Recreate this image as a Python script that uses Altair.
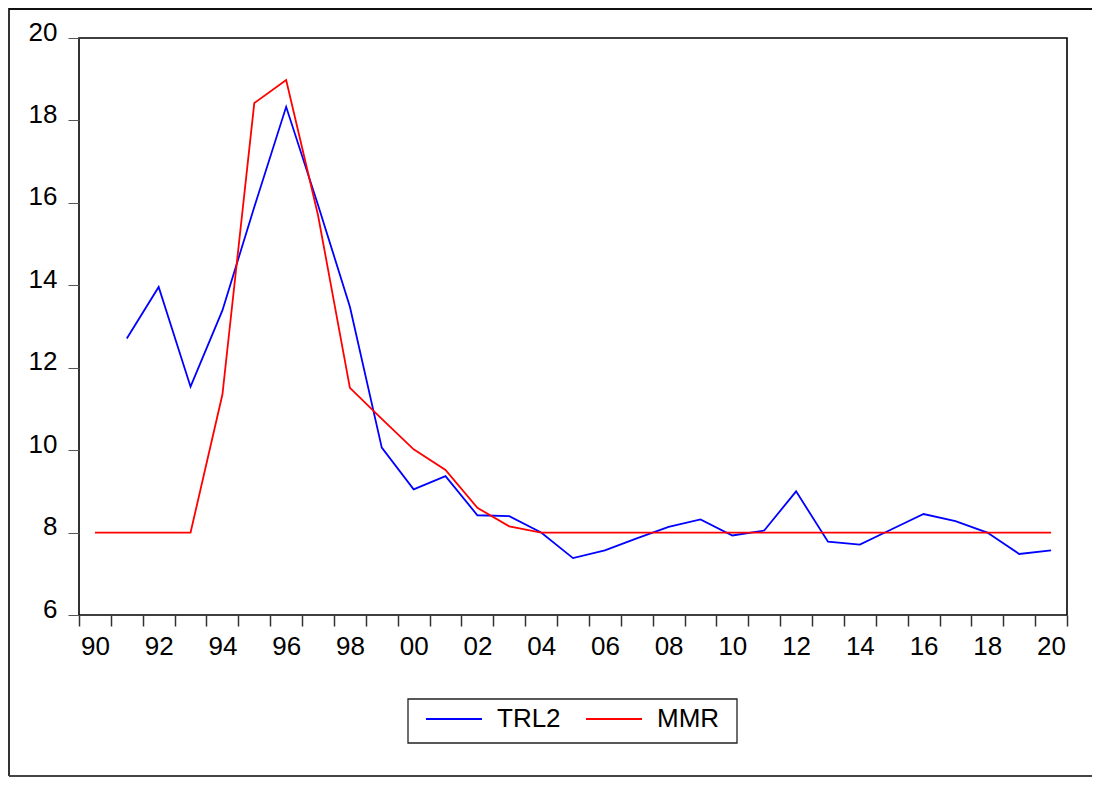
import altair as alt
import pandas as pd

years = list(range(1990, 2021))
trl2 = [None, 12.71, 13.96, 11.54, 13.39, 15.9, 18.33, 15.95, 13.48, 10.06,
        9.05, 9.37, 8.42, 8.40, 8.0, 7.38, 7.57, 7.86, 8.14, 8.32,
        7.93, 8.05, 9.0, 7.78, 7.71, 8.08, 8.45, 8.28, 8.0, 7.48, 7.57]
mmr = [8.0, 8.0, 8.0, 8.0, 11.35, 18.42, 18.98, 15.7, 11.51, 10.76,
       10.02, 9.52, 8.6, 8.15, 8.0, 8.0, 8.0, 8.0, 8.0, 8.0,
       8.0, 8.0, 8.0, 8.0, 8.0, 8.0, 8.0, 8.0, 8.0, 8.0, 8.0]
series_names = ["TRL2", "MMR"]
series_colors = ["#0000ff", "#ff0000"]
y_ticks = [6, 8, 10, 12, 14, 16, 18, 20]

rows = []
for name, vals in zip(series_names, [trl2, mmr]):
    for yr, v in zip(years, vals):
        if v is not None:
            rows.append({"year": yr, "value": v, "series": name})
df = pd.DataFrame(rows)

x_vals = [y - 0.5 for y in years] + [years[-1] + 0.5] + [y for y in years if y % 2 == 0]

FONT = "Liberation Sans"

lines = alt.Chart(df).mark_line(strokeWidth=1.8).encode(
    x=alt.X("year:Q",
            scale=alt.Scale(domain=[1989.5, 2020.5], nice=False, zero=False),
            axis=alt.Axis(values=x_vals, title=None, grid=False,
                          labelExpr="datum.value % 2 == 0 ? slice(toString(datum.value), 2) : ''",
                          tickOpacity={"condition": {"test": "datum.value % 1 == 0", "value": 0}, "value": 1},
                          tickSize=11, tickWidth=1.5, tickColor="#333333",
                          labelFont=FONT, labelFontSize=26, labelColor="#000000",
                          labelPadding=7, labelOverlap=False, labelFlush=False,
                          domain=False)),
    y=alt.Y("value:Q",
            scale=alt.Scale(domain=[6, 20], nice=False, zero=False),
            axis=alt.Axis(values=y_ticks, title=None, grid=False,
                          tickSize=11, tickWidth=1, tickColor="#555555",
                          labelFont=FONT, labelFontSize=26, labelColor="#000000",
                          labelPadding=11, labelOffset=-6, labelOverlap=False,
                          labelFlush=False, domain=False)),
    color=alt.Color("series:N",
                    scale=alt.Scale(domain=series_names, range=series_colors),
                    legend=alt.Legend(orient="none", legendX=346, legendY=652,
                                      direction="horizontal", title=None,
                                      symbolType="stroke", symbolSize=3136,
                                      symbolStrokeWidth=2, labelFont=FONT,
                                      labelFontSize=26, labelColor="#000000",
                                      labelOffset=14, columnPadding=21,
                                      padding=0)),
)

one = pd.DataFrame({"a": [0]})
legend_box = alt.Chart(one).mark_rect(fill=None, stroke="#222222", strokeWidth=1.3).encode(
    x=alt.value(329), x2=alt.value(658), y=alt.value(661), y2=alt.value(705))

frame_left = alt.Chart(one).mark_rule(color="#333333", strokeWidth=2).encode(
    x=alt.value(-70), y=alt.value(-30), y2=alt.value(738))
frame_top = alt.Chart(one).mark_rule(color="#111111", strokeWidth=2).encode(
    x=alt.value(-70), x2=alt.value(1025), y=alt.value(-29))
frame_bottom = alt.Chart(one).mark_rule(color="#444444", strokeWidth=2).encode(
    x=alt.value(-70), x2=alt.value(1025), y=alt.value(738))

chart = alt.layer(lines, legend_box, frame_left, frame_top, frame_bottom).properties(
    width=988, height=577,
    padding={"left": 71, "top": 30, "right": 25, "bottom": 162},
    autosize=alt.AutoSizeParams(type="none"),
).configure(background="#ffffff").configure_view(stroke="#000000", strokeWidth=1.6)

chart.save("out.html", embed_options={"renderer": "svg", "actions": False})
